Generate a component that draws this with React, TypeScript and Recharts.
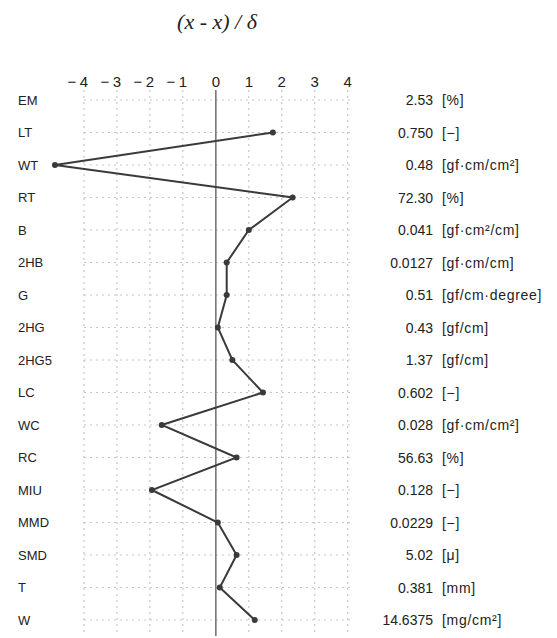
import React from "react";
import { LineChart, Line, XAxis, YAxis, ReferenceLine } from "recharts";

// property names, top to bottom
const categories = ["EM", "LT", "WT", "RT", "B", "2HB", "G", "2HG", "2HG5", "LC", "WC", "RC", "MIU", "MMD", "SMD", "T", "W"];
// normalised deviation (x - x) / δ, EM not plotted
const deviations = [null, 1.73, -4.88, 2.33, 1.0, 0.33, 0.33, 0.06, 0.5, 1.43, -1.64, 0.63, -1.94, 0.06, 0.63, 0.12, 1.18];
const values = ["2.53", "0.750", "0.48", "72.30", "0.041", "0.0127", "0.51", "0.43", "1.37", "0.602", "0.028", "56.63", "0.128", "0.0229", "5.02", "0.381", "14.6375"];
const units = ["[%]", "[−]", "[gf·cm/cm²]", "[%]", "[gf·cm²/cm]", "[gf·cm/cm]", "[gf/cm·degree]", "[gf/cm]", "[gf/cm]", "[−]", "[gf·cm/cm²]", "[%]", "[−]", "[−]", "[μ]", "[mm]", "[mg/cm²]"];
const xTicks = [-4, -3, -2, -1, 0, 1, 2, 3, 4];

const data = categories.map((name, i) => ({
  name,
  dev: deviations[i],
}));

const FONT = "'Liberation Sans', Arial, sans-serif";

function TopTick(props: any) {
  const { x, payload } = props;
  const v = payload.value as number;
  return (
    <g>
      {v < 0 && (
        <text x={x - 12} y={87} textAnchor="middle" fontSize={15} fontFamily={FONT} fill="#222">
          −
        </text>
      )}
      <text x={x} y={87} textAnchor="middle" fontSize={15} fontFamily={FONT} fill="#222">
        {Math.abs(v)}
      </text>
    </g>
  );
}

function LeftTick(props: any) {
  const { y, payload } = props;
  return (
    <text x={18} y={y} dy={4.5} textAnchor="start" fontSize={13} fontFamily={FONT} fill="#222">
      {payload.value}
    </text>
  );
}

function RightTick(props: any) {
  const { y, index } = props;
  return (
    <g>
      <text x={433} y={y} dy={5} textAnchor="end" fontSize={14} fontFamily={FONT} fill="#222">
        {values[index]}
      </text>
      <text x={442} y={y} dy={5} textAnchor="start" fontSize={14} letterSpacing={0.7} fontFamily={FONT} fill="#222">
        {units[index]}
      </text>
    </g>
  );
}

export default function App() {
  return (
    <div style={{ position: "absolute", left: 0, top: 0, width: 557, height: 638, background: "#fff" }}>
      <svg width={557} height={40} style={{ position: "absolute", left: 0, top: 0 }}>
        <text x={217} y={29} textAnchor="middle" fontSize={22} fontStyle="italic" fontFamily="'Liberation Serif', 'Times New Roman', serif" fill="#222">
          (x - x) / δ
        </text>
      </svg>
      <LineChart
        width={557}
        height={638}
        data={data}
        layout="vertical"
        margin={{ top: 0, right: 0, bottom: 2, left: 0 }}
      >
        <XAxis
          type="number"
          orientation="top"
          domain={[-5, 4.1]}
          allowDataOverflow
          ticks={xTicks}
          tick={<TopTick />}
          axisLine={false}
          tickLine={false}
          height={90}
        />
        <YAxis
          yAxisId="left"
          type="category"
          dataKey="name"
          width={51}
          tick={<LeftTick />}
          axisLine={false}
          tickLine={false}
          interval={0}
          padding={{ top: 10, bottom: 16 }}
        />
        <YAxis
          yAxisId="right"
          type="category"
          dataKey="name"
          orientation="right"
          width={206}
          tick={<RightTick />}
          axisLine={false}
          tickLine={false}
          interval={0}
          padding={{ top: 10, bottom: 16 }}
        />
        {xTicks
          .filter((t) => t !== 0)
          .map((t) => (
            <ReferenceLine key={"v" + t} yAxisId="left" x={t} stroke="#bbb" strokeDasharray="2 4" />
          ))}
        {categories.map((c) => (
          <ReferenceLine
            key={"h" + c}
            yAxisId="left"
            segment={[{ x: -4, y: c }, { x: 4.1, y: c }]}
            stroke="#c4c4c4"
            strokeDasharray="2 4"
          />
        ))}
        <ReferenceLine yAxisId="left" x={0} stroke="#777" strokeWidth={1.6} />
        <Line
          yAxisId="left"
          dataKey="dev"
          type="linear"
          stroke="#3a3a3a"
          strokeWidth={2}
          dot={{ r: 2, fill: "#3a3a3a", stroke: "#3a3a3a" }}
          connectNulls={false}
          isAnimationActive={false}
        />
      </LineChart>
    </div>
  );
}
